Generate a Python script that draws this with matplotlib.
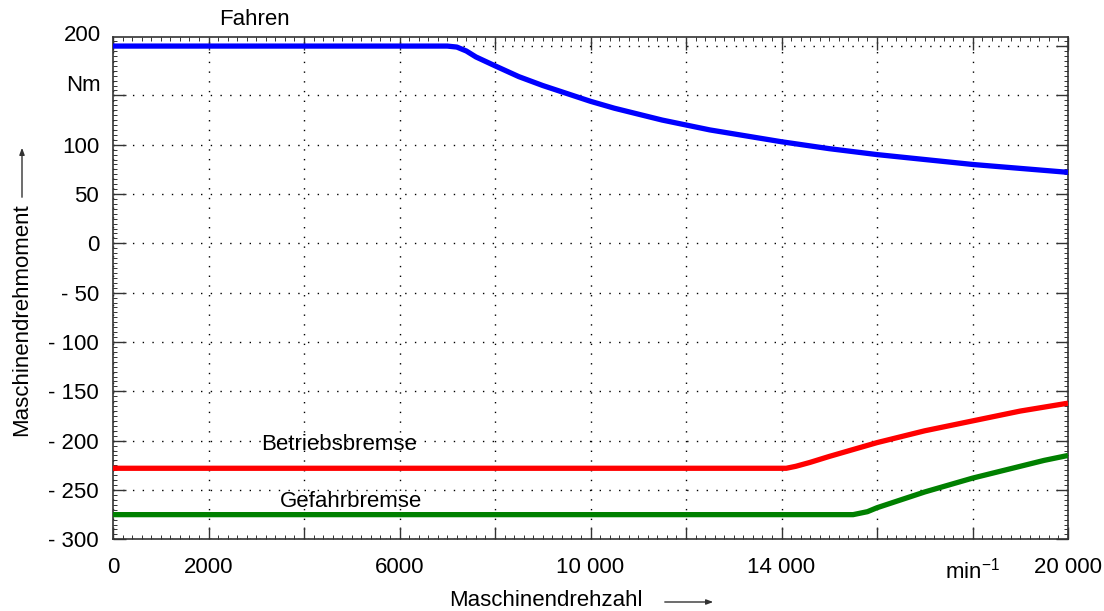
import matplotlib
matplotlib.use('Agg')
import matplotlib.pyplot as plt
from matplotlib.patches import FancyArrowPatch
from matplotlib.ticker import MultipleLocator

plt.rcParams['font.family'] = ['Liberation Sans', 'DejaVu Sans']
plt.rcParams['mathtext.fontset'] = 'custom'
plt.rcParams['mathtext.rm'] = 'Liberation Sans'
plt.rcParams['mathtext.it'] = 'Liberation Sans:italic'

# torque characteristics over motor speed (rpm, Nm)
fahren_n = [0, 7000, 7200, 7400, 7600, 8000, 8500, 9000, 9500, 10000, 10500,
            11000, 11500, 12000, 12500, 13000, 14000, 15000, 16000, 17000,
            18000, 19000, 20000]
fahren_m = [200, 200, 199, 195, 189, 180, 169, 160, 152, 144, 137,
            131, 125, 120, 115, 111, 103, 96, 90, 85,
            80, 76, 72]

betrieb_n = [0, 14100, 14300, 14600, 15000, 15500, 16000, 16500, 17000,
             17500, 18000, 18500, 19000, 19500, 20000]
betrieb_m = [-228, -228, -226, -222, -216, -209, -202, -196, -190,
             -185, -180, -175, -170, -166, -162]

gefahr_n = [0, 15500, 15800, 16000, 16500, 17000, 17500, 18000, 18500,
            19000, 19500, 20000]
gefahr_m = [-275, -275, -272, -268, -260, -252, -245, -238, -232,
            -226, -220, -215]

x_ticks = [0, 2000, 4000, 6000, 8000, 10000, 12000, 14000, 16000, 18000, 20000]
x_labels = ['0', '2000', '', '6000', '', '10 000', '', '14 000', '',
            r'min$^{\mathrm{-1}}$', '20 000']
y_ticks = [-300, -250, -200, -150, -100, -50, 0, 50, 100, 150, 200]
y_labels = ['- 300', '- 250', '- 200', '- 150', '- 100', '- 50', '0', '50',
            '100', '', '']

W, H = 1104, 611
FS = 16
fig = plt.figure(figsize=(W / 100, H / 100), dpi=100)
ax = fig.add_axes([113 / W, 1 - 539.3 / H, 955 / W, 502.6 / H])

ax.plot(fahren_n, fahren_m, color='#0000ff', lw=3.8, solid_capstyle='butt', zorder=3)
ax.plot(betrieb_n, betrieb_m, color='#ff0000', lw=3.8, solid_capstyle='butt', zorder=3)
ax.plot(gefahr_n, gefahr_m, color='#008000', lw=3.8, solid_capstyle='butt', zorder=3)

ax.set_xlim(0, 20000)
ax.set_ylim(-300, 209.5)

ax.set_xticks(x_ticks)
ax.set_xticklabels(x_labels)
ax.set_yticks(y_ticks)
ax.set_yticklabels(y_labels)
ax.xaxis.set_minor_locator(MultipleLocator(200))
ax.yaxis.set_minor_locator(MultipleLocator(5))

ax.tick_params(which='both', direction='in', top=True, right=True,
               color='#333333', labelsize=FS)
ax.tick_params(which='major', length=9, width=1)
ax.tick_params(which='minor', length=3, width=0.7)
ax.tick_params(axis='x', which='major', pad=13)
ax.tick_params(axis='y', which='major', pad=10)

ax.grid(True, which='major', color='black', lw=1.0, linestyle=(0, (1, 6)))
for s in ax.spines.values():
    s.set_color('#333333')
    s.set_linewidth(1.2)

# top labels sit above their grid lines
ax.text(-0.0125, 211, '200', transform=ax.get_yaxis_transform(),
        ha='right', va='center', fontsize=FS)
ax.text(-0.0125, 160, 'Nm', transform=ax.get_yaxis_transform(),
        ha='right', va='center', fontsize=FS)

# curve names
ax.text(2970, 227, 'Fahren', ha='center', va='center', fontsize=FS, clip_on=False)
ax.text(4730, -204, 'Betriebsbremse', ha='center', va='center', fontsize=FS)
ax.text(4980, -262, 'Gefahrbremse', ha='center', va='center', fontsize=FS)

# axis titles with arrows
fig.text(22 / W, 1 - 320 / H, 'Maschinendrehmoment', rotation=90,
         ha='center', va='center', fontsize=FS)
fig.text(546 / W, 1 - 601 / H, 'Maschinendrehzahl', ha='center', va='center',
         fontsize=FS)
fig.add_artist(FancyArrowPatch(
    (22 / W, 1 - 200 / H), (22 / W, 1 - 145 / H), transform=fig.transFigure,
    arrowstyle='-|>,head_length=4,head_width=1.5', color='#333333', lw=1))
fig.add_artist(FancyArrowPatch(
    (662 / W, 1 - 602 / H), (716 / W, 1 - 602 / H), transform=fig.transFigure,
    arrowstyle='-|>,head_length=4,head_width=1.5', color='#333333', lw=1))

fig.savefig('out.png', dpi=100)
